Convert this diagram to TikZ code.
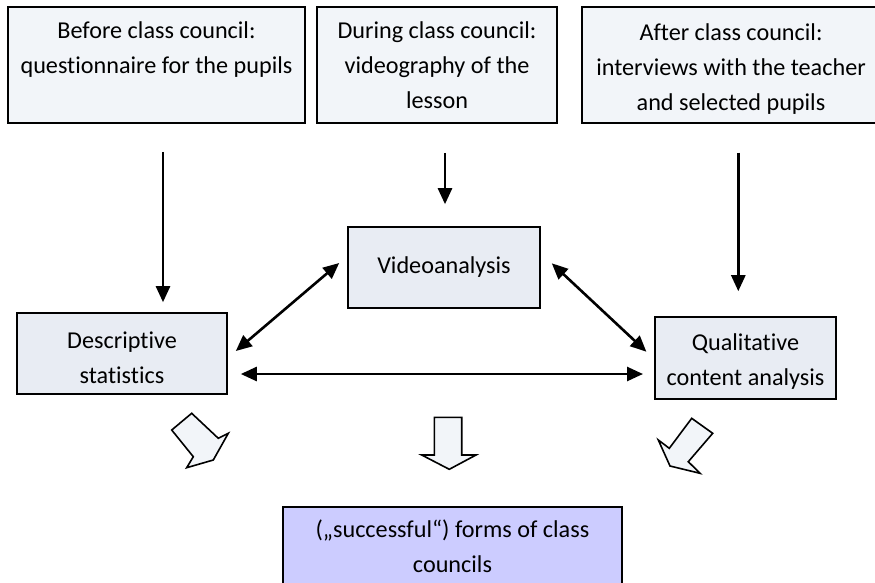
\documentclass[tikz,border=0pt]{standalone}
\usepackage{fontspec}
\setmainfont{Carlito}[Ligatures={NoCommon}]
\usepackage{tikz}
\usetikzlibrary{arrows.meta,calc}
\definecolor{phasefill}{HTML}{F2F5F9}
\definecolor{methodfill}{HTML}{E8ECF3}
\definecolor{resultfill}{HTML}{CCCCFF}

\begin{document}
\begin{tikzpicture}[x=1pt, y=-1pt,
		every node/.style={font=\fontsize{24.2}{35}\selectfont, align=center, inner sep=0pt},
		phase/.style={draw, line width=1.6pt, fill=phasefill, minimum height=116pt},
		method/.style={draw, line width=1.6pt, fill=methodfill},
		conn/.style={line width=2.6pt, -{Triangle[length=16pt,width=14pt]}},
		bothconn/.style={line width=2.6pt, {Triangle[length=16pt,width=14pt]}-{Triangle[length=16pt,width=14pt]}},
		bigarrow/.style={draw, line width=1.6pt, fill=phasefill}]
	\useasboundingbox (0,0) rectangle (875,582);
	\node[phase, minimum width=297pt] (before) at (156.5,65) {Before class council:\\ questionnaire for the pupils\\ \mbox{}};
	\node[phase, minimum width=240pt] (during) at (437,65) {During class council:\\ videography of the\\ lesson};
	\node[phase, minimum width=298pt] (after) at (731,65) {\strut After class council:\\ interviews with the teacher\\ and selected pupils};
	\node[method, minimum width=192pt, minimum height=81pt] (video) at (444,267.5) {Videoanalysis};
	\node[method, minimum width=210pt, minimum height=81pt] (desc) at (122,353.5) {\strut Descriptive\\ statistics};
	\node[method, minimum width=181pt, minimum height=82pt] (qual) at (745.5,358) {\strut Qualitative\\ content analysis};
	\node[draw, line width=1.6pt, fill=resultfill, minimum width=339pt, minimum height=79pt] (result) at (452.5,546.5) {(„successful“) forms of class\\ councils};
	\draw[conn, shorten <=28pt, shorten >=10pt] ([xshift=6.5pt]before.south) -- ([xshift=6.5pt]before.south |- desc.north);
	\draw[conn, shorten <=29pt, shorten >=22pt] ([xshift=8pt]during.south) -- ([xshift=8pt]during.south |- video.north);
	\draw[conn, shorten <=28.7pt, shorten >=25pt] ([xshift=7.3pt]after.south) -- ([xshift=7.3pt]after.south |- qual.north);
	\draw[bothconn] ($(desc.east)+(8,-2.5)$) -- ($(video.west)+(-8,-4.5)$);
	\draw[bothconn] ($(video.east)+(11,-4.2)$) -- ($(qual.west)+(-7.8,-6.3)$);
	\draw[bothconn] ($(desc.east)+(13,20.5)$) -- ($(qual.west)+(-11.2,16)$);
	\draw[bigarrow] (191.7,413.3) -- (218.3,438.3) -- (228.3,433.3) -- (213.3,460) -- (186.7,467.7) -- (193.3,456.7) -- (171.7,430) -- cycle;
	\draw[bigarrow] (434.3,417.3) -- (461.7,417.3) -- (461.7,455) -- (476,455) -- (449.3,469.3) -- (421.7,455) -- (434.3,455) -- cycle;
	\draw[bigarrow] (691.7,418.3) -- (712.7,433.3) -- (688.3,461.7) -- (700,473.3) -- (670,466) -- (658.3,440) -- (669.3,448.3) -- cycle;
\end{tikzpicture}
\end{document}
